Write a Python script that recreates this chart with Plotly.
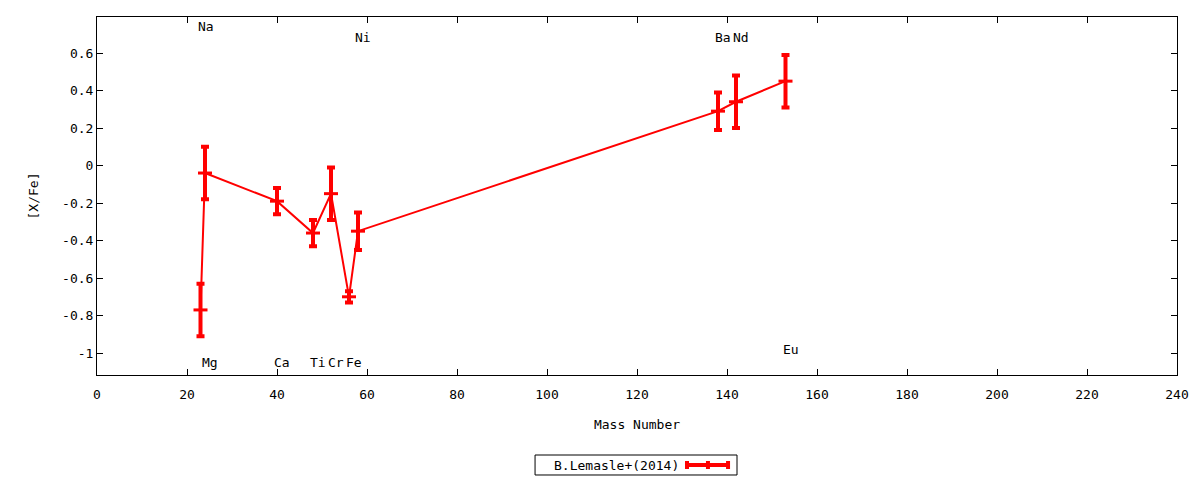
import plotly.graph_objects as go

# [X/Fe] abundances vs mass number, B.Lemasle+(2014)
elements = ["Na", "Mg", "Ca", "Ti", "Cr", "Fe", "Ni", "Ba", "Nd", "Eu"]
mass = [23, 24, 40, 48, 52, 56, 58, 138, 142, 153]
xfe = [-0.77, -0.04, -0.19, -0.36, -0.15, -0.70, -0.35, 0.29, 0.34, 0.45]
err = [0.14, 0.14, 0.07, 0.07, 0.14, 0.03, 0.10, 0.10, 0.14, 0.14]
# label heights (top / bottom rows as in the original)
label_y = [0.74, -1.05, -1.05, -1.05, -1.05, -1.05, 0.685, 0.685, 0.685, -0.98]

x_ticks = list(range(0, 241, 20))
y_ticks = [-1, -0.8, -0.6, -0.4, -0.2, 0, 0.2, 0.4, 0.6]
y_ticktext = ["-1", "-0.8", "-0.6", "-0.4", "-0.2", "0", "0.2", "0.4", "0.6"]

RED = "#ff0000"
FONT = "DejaVu Sans Mono"

fig = go.Figure()
fig.add_trace(go.Scatter(
    x=mass, y=xfe,
    mode="lines+markers",
    line=dict(color=RED, width=2),
    marker=dict(symbol="line-ew", size=10, color=RED,
                line=dict(color=RED, width=3)),
    error_y=dict(type="data", array=err, visible=True,
                 color=RED, thickness=4, width=4),
    name="B.Lemasle+(2014)",
    showlegend=False,
))

# element names
for el, mx, ly in zip(elements, mass, label_y):
    fig.add_annotation(x=mx, y=ly, text=el, showarrow=False,
                       xanchor="center", yanchor="middle", xshift=5,
                       font=dict(family=FONT, size=13, color="black"))

# gnuplot style legend box below the plot
fig.add_shape(type="rect", xref="paper", yref="paper",
              x0=0.4056, x1=0.5926, y0=-0.2793, y1=-0.2235,
              line=dict(color="black", width=1), fillcolor="white")
fig.add_annotation(xref="paper", yref="paper", x=0.4806, y=-0.2514,
                   text="B.Lemasle+(2014)", showarrow=False,
                   xanchor="center", yanchor="middle",
                   font=dict(family=FONT, size=13, color="black"))
fig.add_shape(type="line", xref="paper", yref="paper",
              x0=0.5463, x1=0.5843, y0=-0.2514, y1=-0.2514,
              line=dict(color=RED, width=4))
for px in [0.5463, 0.5657, 0.5843]:
    fig.add_shape(type="line", xref="paper", yref="paper",
                  x0=px, x1=px, y0=-0.2626, y1=-0.2402,
                  line=dict(color=RED, width=4))

axis_common = dict(
    showline=True, linecolor="black", linewidth=1, mirror="ticks",
    ticks="inside", ticklen=6, tickcolor="black",
    showgrid=False, zeroline=False,
    tickfont=dict(family=FONT, size=13, color="black"),
)

fig.update_layout(
    width=1200, height=480,
    paper_bgcolor="white", plot_bgcolor="white",
    margin=dict(l=97, r=23, t=17, b=105),
    font=dict(family=FONT, size=13, color="black"),
    xaxis=dict(range=[0, 240], tickvals=x_ticks, ticklabelstandoff=7,
               title=dict(text="Mass Number", standoff=19,
                          font=dict(family=FONT, size=13)),
               **axis_common),
    yaxis=dict(range=[-1.117, 0.792], tickvals=y_ticks, ticktext=y_ticktext,
               title=dict(text="[X/Fe]", standoff=20,
                          font=dict(family=FONT, size=13)),
               **axis_common),
)

# drop the default page margin so the figure fills the window
fig.write_html("out.html", config={"displayModeBar": False},
               post_script="document.body.style.margin='0';"
                           "document.body.style.overflow='hidden';")
